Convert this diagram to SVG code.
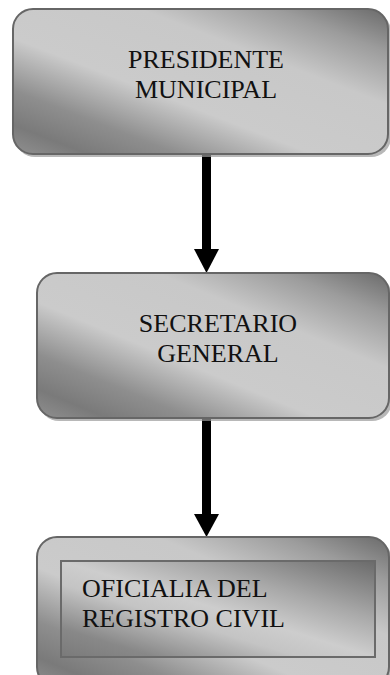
<svg xmlns="http://www.w3.org/2000/svg" width="390" height="675" viewBox="0 0 390 675">
<defs>
<linearGradient id="g" x1="1" y1="0" x2="0" y2="1">
<stop offset="0" stop-color="#6a6a6a"/>
<stop offset="0.15" stop-color="#9c9c9c"/>
<stop offset="0.33" stop-color="#c8c8c8"/>
<stop offset="0.6" stop-color="#cbcbcb"/>
<stop offset="0.78" stop-color="#8e8e8e"/>
<stop offset="0.9" stop-color="#7a7a7a"/>
<stop offset="1" stop-color="#909090"/>
</linearGradient>
<linearGradient id="g2" x1="1" y1="0" x2="0" y2="1">
<stop offset="0" stop-color="#6a6a6a"/>
<stop offset="0.3" stop-color="#a8a8a8"/>
<stop offset="0.5" stop-color="#cdcdcd"/>
<stop offset="0.62" stop-color="#c4c4c4"/>
<stop offset="0.85" stop-color="#888"/>
<stop offset="1" stop-color="#7a7a7a"/>
</linearGradient>
</defs>
<style>
.box{fill:url(#g);stroke:#666;stroke-width:2}
.shadow{fill:#9a9a9a;stroke:none;opacity:0.7}
.inner{fill:url(#g2);stroke:#6a6a6a;stroke-width:2}
.t{font-family:"Liberation Serif","Times New Roman",serif;font-size:26px;fill:#111}
.c{text-anchor:middle}
.conn{stroke:#000;stroke-width:9;fill:none}
.head{fill:#000}
</style>
<g id="connectors">
<line class="conn" x1="206.5" y1="154" x2="206.5" y2="250"/>
<path class="head" d="M194,249 L219,249 L206.5,273 Z"/>
<line class="conn" x1="206.5" y1="418" x2="206.5" y2="515"/>
<path class="head" d="M194,514 L219,514 L206.5,537 Z"/>
</g>
<g id="node-presidente">
<rect class="shadow" x="15" y="12" width="376" height="145" rx="20"/>
<rect class="box" x="13" y="9" width="375" height="145" rx="20"/>
<text class="t c" x="206" y="68">PRESIDENTE</text>
<text class="t c" x="206" y="98">MUNICIPAL</text>
</g>
<g id="node-secretario">
<rect class="shadow" x="39" y="276" width="353" height="145" rx="20"/>
<rect class="box" x="37" y="273" width="352" height="145" rx="20"/>
<text class="t c" x="218" y="332">SECRETARIO</text>
<text class="t c" x="218" y="362">GENERAL</text>
</g>
<g id="node-oficialia">
<rect class="shadow" x="39" y="540" width="353" height="150" rx="20"/>
<rect class="box" x="37" y="537" width="352" height="150" rx="20"/>
<rect class="inner" x="61" y="561" width="314" height="96"/>
<text class="t" x="82" y="597">OFICIALIA DEL</text>
<text class="t" x="82" y="627">REGISTRO CIVIL</text>
</g>
</svg>
